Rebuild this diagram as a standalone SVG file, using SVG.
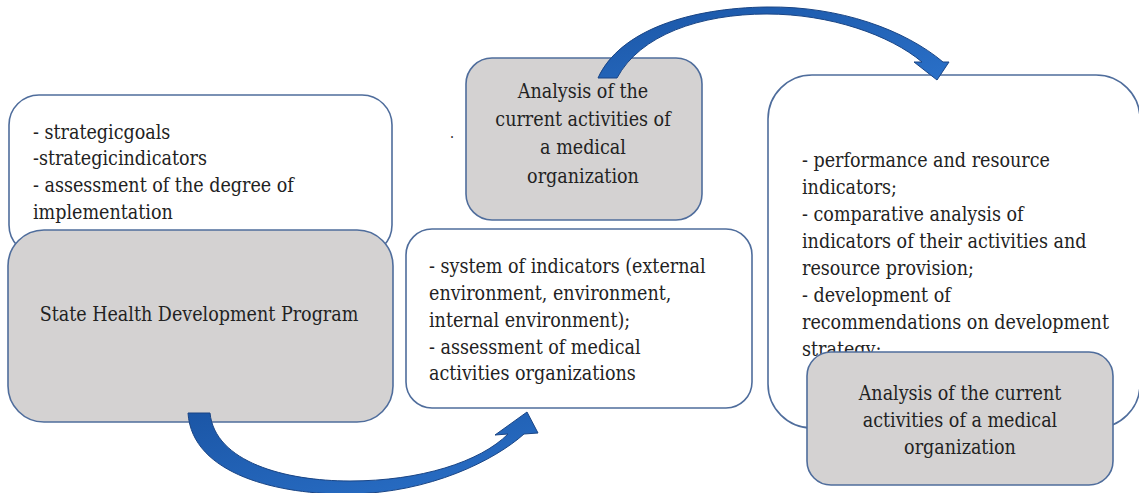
<svg xmlns="http://www.w3.org/2000/svg" width="1139" height="493" viewBox="0 0 1139 493">
  <style>
    .box { stroke: #4f6d9c; stroke-width: 1.6; }
    .white { fill: #ffffff; }
    .gray { fill: #d4d2d2; }
    text { font-family: 'DejaVu Serif Condensed', 'DejaVu Serif', serif; font-stretch: condensed; font-size: 19.5px; fill: #222222; }
    .c { text-anchor: middle; }
    .arrow { fill: url(#blue); stroke: #1a4585; stroke-width: 1; }
  </style>
  <defs>
    <linearGradient id="blue" x1="0" y1="0" x2="1" y2="1">
      <stop offset="0" stop-color="#1b56a6"/>
      <stop offset="1" stop-color="#2a70c8"/>
    </linearGradient>
  </defs>
  <rect width="1139" height="493" fill="#ffffff"/>

  <g id="node-goals">
    <rect class="box white" x="9" y="95" width="383" height="160" rx="30"/>
    <text x="33" y="139">- strategicgoals</text>
    <text x="33" y="165">-strategicindicators</text>
    <text x="33" y="192">- assessment of the degree of</text>
    <text x="33" y="219">implementation</text>
  </g>

  <g id="node-program">
    <rect class="box gray" x="8" y="230" width="385" height="192" rx="36"/>
    <text class="c" x="199" y="321">State Health Development Program</text>
  </g>

  <g id="node-indicators">
    <rect class="box white" x="406" y="229" width="346" height="179" rx="26"/>
    <text x="429" y="273">- system of indicators (external</text>
    <text x="429" y="300">environment, environment,</text>
    <text x="429" y="327">internal environment);</text>
    <text x="429" y="354">- assessment of medical</text>
    <text x="429" y="380">activities organizations</text>
  </g>

  <g id="node-analysis-top">
    <rect class="box gray" x="466" y="58" width="236" height="162" rx="26"/>
    <text class="c" x="583" y="98">Analysis of the</text>
    <text class="c" x="583" y="126">current activities of</text>
    <text class="c" x="583" y="154">a medical</text>
    <text class="c" x="583" y="183">organization</text>
  </g>

  <text x="450" y="138" style="font-size:14px">.</text>

  <g id="node-performance">
    <rect class="box white" x="768" y="75" width="372" height="353" rx="44"/>
    <text x="802" y="167">- performance and resource</text>
    <text x="802" y="194">indicators;</text>
    <text x="802" y="221">- comparative analysis of</text>
    <text x="802" y="248">indicators of their activities and</text>
    <text x="802" y="275">resource provision;</text>
    <text x="802" y="302">- development of</text>
    <text x="802" y="329">recommendations on development</text>
    <text x="802" y="356">strategy;</text>
  </g>

  <g id="node-analysis-bottom">
    <rect class="box gray" x="807" y="352" width="306" height="133" rx="24"/>
    <text class="c" x="960" y="400">Analysis of the current</text>
    <text class="c" x="960" y="427">activities of a medical</text>
    <text class="c" x="960" y="454">organization</text>
  </g>

  <g id="connectors">
    <path class="arrow" d="M 188 413 C 192 475, 280 495, 350 494 C 430 493, 495 460, 524 434 L 538 433 L 527 412 L 495 435 L 508 434 C 480 462, 420 481, 350 481 C 285 481, 215 462, 210 413 Z"/>
    <path class="arrow" d="M 598 78 C 620 30, 690 8, 767 7 C 840 6, 905 30, 943 62 L 949 62 L 937 80 L 914 62 L 922 62 C 890 35, 830 14, 767 14 C 700 14, 640 35, 617 78 Z"/>
  </g>
</svg>
